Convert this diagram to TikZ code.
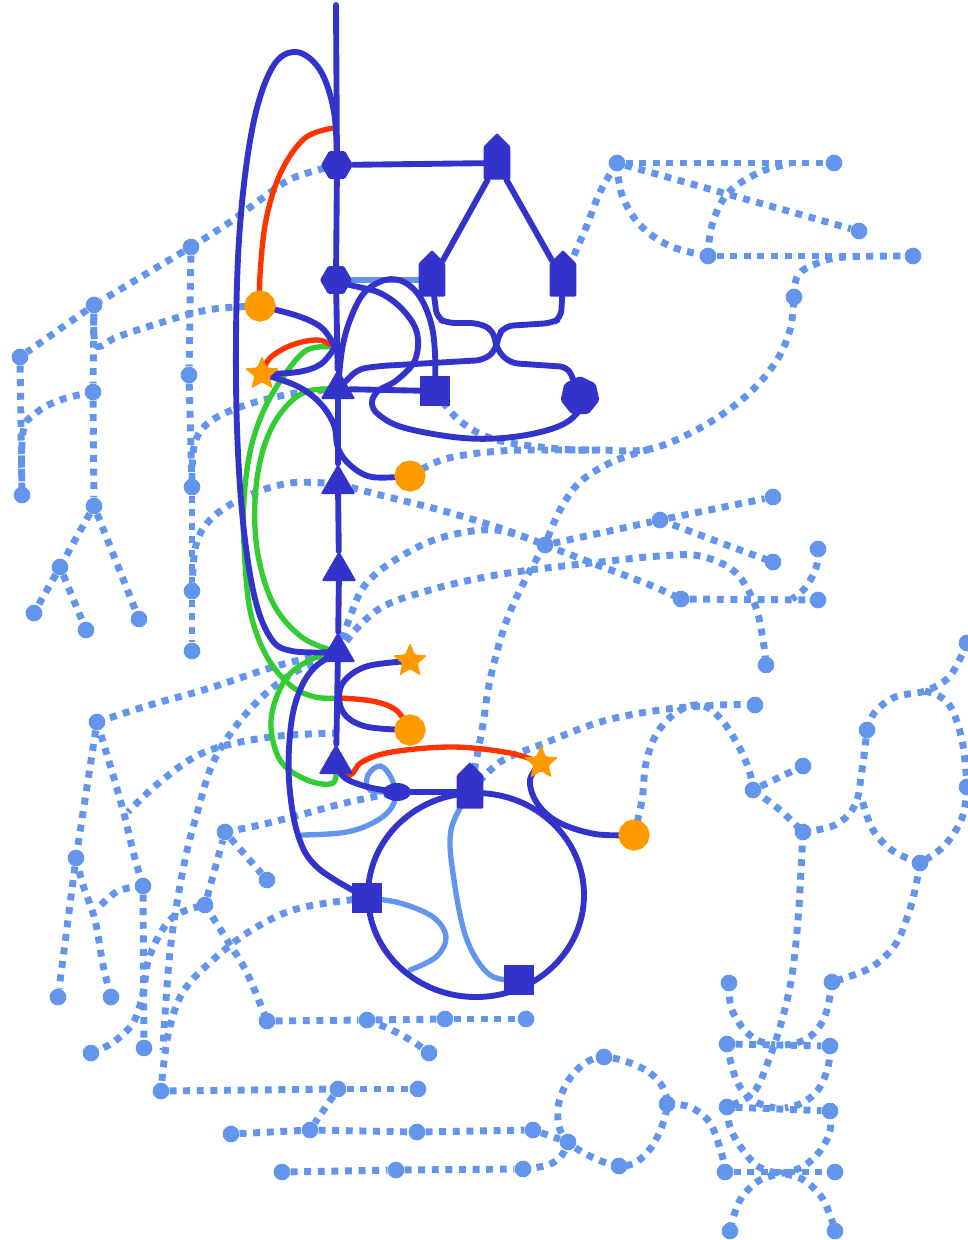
\documentclass[tikz,border=0pt]{standalone}
\usepackage{tikz}
\usetikzlibrary{shapes.geometric,shapes.symbols,backgrounds}
\definecolor{inkblue}{RGB}{51,51,204}
\definecolor{skyblue}{RGB}{100,149,237}
\definecolor{amber}{RGB}{255,153,0}
\definecolor{scarlet}{RGB}{255,51,0}
\definecolor{leaf}{RGB}{51,204,51}
\tikzset{
  link/.style={draw=inkblue, line width=4.4pt, line cap=round},
  palelink/.style={draw=skyblue, line width=4pt, line cap=round},
  redlink/.style={draw=scarlet, line width=4pt, line cap=round},
  greenlink/.style={draw=leaf, line width=4pt, line cap=round},
  dotlink/.style={draw=skyblue, line width=5.2pt, dash pattern=on 5.2pt off 5pt},
  bluedot/.style={circle, fill=skyblue, inner sep=0, minimum size=12.5pt},
  hexnode/.style={regular polygon, regular polygon sides=6, fill=inkblue, inner sep=0, minimum size=24pt, rounded corners=1pt},
  bighex/.style={regular polygon, regular polygon sides=7, fill=inkblue, inner sep=0, minimum size=30pt, rounded corners=1.5pt},
  housenode/.style={signal, signal to=north, signal from=nowhere, fill=inkblue, inner sep=0, minimum width=20pt, minimum height=25pt, rounded corners=1pt},
  trinode/.style={regular polygon, regular polygon sides=3, fill=inkblue, inner sep=0, minimum size=30pt, rounded corners=1pt},
  sqnode/.style={rectangle, fill=inkblue, inner sep=0, minimum size=23pt},
  ovalnode/.style={ellipse, fill=inkblue, inner sep=0, minimum width=21pt, minimum height=13.5pt},
  blobnode/.style={star, star points=12, star point ratio=1.15, fill=amber, inner sep=0, minimum size=25pt, rounded corners=1.5pt},
  starnode/.style={star, star points=5, star point ratio=2.2, fill=amber, inner sep=0, minimum size=27pt, rounded corners=1pt}
}
\begin{document}
\begin{tikzpicture}[x=0.75pt,y=-0.75pt]
  \useasboundingbox (0,0) rectangle (968,1240);

  % core nodes
  \node[hexnode] (H1) at (337,165) {};
  \node[hexnode] (H2) at (336,280) {};
  \node[bighex] (H3) at (580,396) {};
  \node[housenode] (P1) at (497,163) {};
  \node[housenode] (P2) at (432,280) {};
  \node[housenode] (P3) at (563,280) {};
  \node[housenode] (P4) at (470,792) {};
  \node[trinode] (T1) at (338,389) {};
  \node[trinode] (T2) at (338,484) {};
  \node[trinode] (T3) at (339,571) {};
  \node[trinode] (T4) at (338,652) {};
  \node[trinode] (T5) at (336,764) {};
  \node[sqnode] (S1) at (435,391) {};
  \node[sqnode] (S2) at (367,898) {};
  \node[sqnode] (S3) at (519,980) {};
  \node[ovalnode] (E1) at (397,792) {};
  \node[blobnode] (O1) at (260,306) {};
  \node[blobnode] (O2) at (410,476) {};
  \node[blobnode] (O3) at (410,730) {};
  \node[blobnode] (O4) at (634,835) {};
  \node[starnode] (St1) at (262,374) {};
  \node[starnode] (St2) at (410,661) {};
  \node[starnode] (St3) at (541,763) {};

  \coordinate (spinetop) at (336,5);
  \coordinate (redtop) at (334,128);
  \coordinate (jA) at (335,347);
  \coordinate (jB) at (339,698);
  \coordinate (jC) at (339,733);
  \coordinate (lbend) at (302,835);
  \coordinate (ringpt) at (410,970);
  \coordinate (ringc) at (476,895);
  \coordinate (mA) at (600,450);
  \coordinate (mB) at (650,449);
  \coordinate (mC) at (792,599);
  \coordinate (mD) at (790,164);
  \coordinate (mF) at (925,691);
  \coordinate (mG) at (862,800);
  \coordinate (mJ) at (128,812);
  \coordinate (mK) at (98,908);
  \coordinate (r1a) at (775,1045);
  \coordinate (r1b) at (785,1045);
  \coordinate (r2a) at (775,1108);
  \coordinate (r2b) at (785,1108);
  \coordinate (r3a) at (772,1172);
  \coordinate (r3b) at (788,1172);

  % light dots
  \foreach \n/\x/\y in {a1/191/247, a2/94/305, a3/20/357, a4/93/392, a5/22/495, a6/94/506,
      a7/60/567, a8/34/613, a9/86/630, a10/139/619, a11/189/375, a12/192/487, a13/192/591, a14/192/651,
      b1/617/163, b2/834/163, b3/859/231, b4/708/256, b5/913/256, b6/794/297,
      c1/545/545, c2/660/520, c3/773/497, c4/773/562, c5/818/549, c6/681/599, c7/818/600, c8/766/665,
      d2/97/722, d3/76/858, d4/58/997, d5/111/997, d6/143/886, d7/225/832, d8/267/880, d9/205/905,
      d10/91/1053, d11/144/1048, e1/161/1091,
      f1/267/1021, f2/367/1020, f3/445/1019, f4/526/1019, f5/429/1053, f6/338/1089, f7/418/1089,
      f8/231/1134, f9/310/1130, f10/417/1132, f11/533/1130, f12/282/1172, f13/396/1170, f14/523/1169,
      g1/604/1057, g2/667/1104, g3/619/1166, g4/568/1142,
      h1/729/983, h2/832/982, h3/727/1044, h4/830/1046, h5/727/1107, h6/830/1111,
      h7/725/1172, h8/835/1172, h9/730/1231, h10/835/1231,
      i1/803/832, i2/755/705, i3/753/790, i4/803/766, i5/867/730, i6/967/643, i7/967/787, j1/920/863}
    \node[bluedot] (\n) at (\x,\y) {};

  \begin{scope}[on background layer]
    % dotted mesh
    \foreach \u/\v in {a1/a2, a2/a3, a2/a4, a4/a6, a3/a5, a6/a7, a7/a8, a7/a9, a6/a10,
        a1/a11, a11/a12, a12/a13, a13/a14, b1/b2, b1/b3, b4/b5, c1/c2, c2/c3, c6/c7, i3/i4,
        d2/d3, d3/d4, d6/d11, d9/d7, d7/d8, f1/f2, f2/f3, f3/f4, e1/f6, f6/f7, f6/f9,
        f8/f9, f9/f10, f10/f11, f11/g4, f12/f13, f13/f14, h3/h4, h5/h6, h7/h8}
      \draw[dotlink] (\u) -- (\v);
    \draw[dotlink] plot[smooth, tension=0.6] coordinates {(a1) (230,222) (264,197) (293,178) (H1)};
    \draw[dotlink] plot[smooth, tension=0.6] coordinates {(a2) (96,345) (117,337) (150,326) (207,310) (O1)};
    \draw[dotlink] plot[smooth, tension=0.6] coordinates {(a4) (60,400) (36,413) (23,432) (a5)};
    \draw[dotlink] plot[smooth, tension=0.6] coordinates {(T1) (290,394) (240,407) (207,424) (194,447) (a12)};
    \draw[dotlink] plot[smooth, tension=0.6] coordinates {(T2) (290,483) (245,497) (212,518) (196,545) (a13)};
    \draw[dotlink] plot[smooth, tension=0.6] coordinates {(b1) (622,195) (640,225) (670,246) (b4)};
    \draw[dotlink] plot[smooth, tension=0.6] coordinates {(b4) (712,225) (728,193) (760,172) (mD)};
    \draw[dotlink] plot[smooth, tension=0.6] coordinates {(b6) (798,275) (818,263) (845,257) (b5)};
    \draw[dotlink] plot[smooth, tension=0.6] coordinates {(b1) (600,192) (585,230) (P3)};
    \draw[dotlink] plot[smooth, tension=0.6] coordinates {(S1) (460,421) (497,440) (560,449) (mA) (mB) (700,428) (745,397) (775,363) (790,330) (b6)};
    \draw[dotlink] plot[smooth, tension=0.6] coordinates {(O2) (445,459) (500,451) (555,450) (mA)};
    \draw[dotlink] plot[smooth, tension=0.6] coordinates {(mB) (612,462) (580,482) (560,510) (c1)};
    \draw[dotlink] plot[smooth, tension=0.6] coordinates {(c1) (525,580) (505,625) (490,680) (482,730) (P4)};
    \draw[dotlink] plot[smooth, tension=0.6] coordinates {(T2) (380,495) (440,510) (500,528) (c1)};
    \draw[dotlink] plot[smooth, tension=0.6] coordinates {(c1) (600,566) (650,585) (c6)};
    \draw[dotlink] plot[smooth, tension=0.6] coordinates {(T4) (350,617) (365,585) (395,560) (440,538) (495,530) (c1)};
    \draw[dotlink] plot[smooth, tension=0.6] coordinates {(c2) (700,535) (740,550) (c4)};
    \draw[dotlink] plot[smooth, tension=0.6] coordinates {(c5) (816,568) (805,588) (mC)};
    \draw[dotlink] plot[smooth, tension=0.6] coordinates {(T4) (360,625) (386,605) (430,590) (480,578) (530,570) (600,562) (660,556) (700,556) (735,572) (755,605) (763,640) (c8)};
    \draw[dotlink] plot[smooth, tension=0.6] coordinates {(P4) (500,762) (540,745) (600,722) (660,710) (720,705) (i2)};
    \draw[dotlink] plot[smooth, tension=0.6] coordinates {(O4) (642,800) (646,763) (657,733) (677,712) (700,705) (720,718) (738,745) (749,770) (i3)};
    \draw[dotlink] plot[smooth, tension=0.6] coordinates {(i3) (780,810) (i1)};
    \draw[dotlink] plot[smooth, tension=0.6] coordinates {(i1) (835,825) (855,805) (862,770) (i5)};
    \draw[dotlink] plot[smooth, tension=0.6] coordinates {(i5) (875,712) (895,697) (mF) (948,678) (962,655) (i6)};
    \draw[dotlink] plot[smooth, tension=0.6] coordinates {(mF) (948,703) (962,740) (i7)};
    \draw[dotlink] plot[smooth, tension=0.6] coordinates {(i7) (962,818) (944,846) (j1)};
    \draw[dotlink] plot[smooth, tension=0.6] coordinates {(j1) (893,851) (873,830) (mG)};
    \draw[dotlink] plot[smooth, tension=0.6] coordinates {(j1) (915,890) (908,915) (895,945) (870,968) (h2)};
    \draw[dotlink] plot[smooth, tension=0.6] coordinates {(i1) (801,870) (798,920) (792,975) (782,1020) (768,1062) (753,1093) (h5)};
    \draw[dotlink] plot[smooth, tension=0.6] coordinates {(h1) (731,1007) (742,1027) (757,1040) (r1a)};
    \draw[dotlink] plot[smooth, tension=0.6] coordinates {(h2) (827,1010) (817,1030) (802,1041) (r1b)};
    \draw[dotlink] plot[smooth, tension=0.6] coordinates {(h3) (732,1067) (740,1087) (756,1102) (r2a)};
    \draw[dotlink] plot[smooth, tension=0.6] coordinates {(h4) (828,1067) (818,1090) (802,1103) (r2b)};
    \draw[dotlink] plot[smooth, tension=0.6] coordinates {(h5) (730,1127) (740,1146) (756,1165) (r3a)};
    \draw[dotlink] plot[smooth, tension=0.6] coordinates {(h6) (830,1131) (820,1151) (804,1166) (r3b)};
    \draw[dotlink] plot[smooth, tension=0.6] coordinates {(r3a) (800,1178) (820,1195) (830,1215) (h10)};
    \draw[dotlink] plot[smooth, tension=0.6] coordinates {(r3b) (760,1180) (742,1197) (734,1215) (h9)};
    \draw[dotlink] plot[smooth cycle, tension=0.6] coordinates {(g1) (650,1073) (g2) (650,1149) (g3) (g4) (558,1108) (574,1073)};
    \draw[dotlink] plot[smooth, tension=0.6] coordinates {(g2) (690,1107) (710,1123) (722,1155) (h7)};
    \draw[dotlink] plot[smooth, tension=0.6] coordinates {(f14) (548,1165) (562,1155) (g4)};
    \draw[dotlink] plot[smooth, tension=0.6] coordinates {(f2) (392,1030) (415,1043) (f5)};
    \draw[dotlink] plot[smooth, tension=0.6] coordinates {(S2) (300,908) (255,928) (215,958) (183,992) (168,1035) (e1)};
    \draw[dotlink] plot[smooth, tension=0.6] coordinates {(T4) (295,672) (262,697) (233,730) (212,765) (198,810) (185,860) (172,935) (166,1000) (163,1050)};
    \draw[dotlink] plot[smooth, tension=0.6] coordinates {(d2) (150,705) (210,688) (280,665) (T4)};
    \draw[dotlink] plot[smooth, tension=0.6] coordinates {(d3) (83,885) (95,920) (103,965) (d5)};
    \draw[dotlink] plot[smooth, tension=0.6] coordinates {(d2) (110,765) (123,810) (134,855) (d6)};
    \draw[dotlink] plot[smooth, tension=0.6] coordinates {(jC) (270,737) (205,752) (160,782) (mJ)};
    \draw[dotlink] plot[smooth, tension=0.6] coordinates {(d6) (118,891) (mK)};
    \draw[dotlink] plot[smooth, tension=0.6] coordinates {(d10) (112,1043) (133,1023) (143,993) (150,955) (172,918) (d9)};
    \draw[dotlink] plot[smooth, tension=0.6] coordinates {(d7) (260,825) (300,815) (345,803) (E1)};
    \draw[dotlink] plot[smooth, tension=0.6] coordinates {(d9) (227,940) (247,973) (f1)};

    % pale solid links
    \draw[palelink] (H2) -- (P2);
    \draw[palelink] plot[smooth, tension=0.6] coordinates {(lbend) (347,832) (378,820) (394,803) (393,782) (381,766) (368,775) (370,790) (E1)};
    \draw[palelink] plot[smooth, tension=0.6] coordinates {(S2) (400,903) (433,917) (446,937) (436,957) (ringpt)};
    \draw[palelink] plot[smooth, tension=0.6] coordinates {(P4) (451,830) (454,880) (467,940) (490,975) (S3)};

    % green links
    \draw[greenlink] plot[smooth, tension=0.6] coordinates {(jA) (307,350) (283,377) (263,412) (250,452) (244,500) (244,545) (250,610) (266,655) (290,685) (315,697) (jB)};
    \draw[greenlink] plot[smooth, tension=0.6] coordinates {(T1) (305,392) (280,414) (263,450) (255,500) (258,555) (274,605) (303,638) (T4)};
    \draw[greenlink] plot[smooth, tension=0.6] coordinates {(T4) (310,660) (285,680) (271,720) (280,760) (307,780) (333,783) (T5)};

    % red links
    \draw[redlink] plot[smooth, tension=0.6] coordinates {(redtop) (305,138) (281,172) (266,220) (260,275) (O1)};
    \draw[redlink] plot[smooth, tension=0.6] coordinates {(St1) (270,358) (292,345) (318,340) (jA)};
    \draw[redlink] plot[smooth, tension=0.6] coordinates {(jB) (372,701) (396,710) (O3)};
    \draw[redlink] plot[smooth, tension=0.6] coordinates {(T5) (350,775) (362,762) (392,752) (453,747) (510,753) (St3)};

    % dark links
    \draw[link] (spinetop) -- (H1) -- (H2) -- (T1) -- (T2) -- (T3) -- (T4) -- (T5);
    \draw[link] (H1) -- (P1) (P1) -- (P2) (P1) -- (P3);
    \draw[link] (T1) -- (S1);
    \draw[link] (E1) -- (P4);
    \draw[link] (ringc) ellipse [x radius=81pt, y radius=76.5pt];
    \draw[link] plot[smooth, tension=0.6] coordinates {(H1) (334,112) (320,70) (296,52) (272,68) (252,130) (239,240) (236,380) (241,500) (253,590) (270,637) (292,651) (T4)};
    \draw[link] plot[smooth, tension=0.6] coordinates {(O1) (298,316) (322,328) (jA)};
    \draw[link] plot[smooth, tension=0.6] coordinates {(St1) (298,372) (321,364) (jA)};
    \draw[link] plot[smooth, tension=0.6] coordinates {(St1) (297,386) (320,403) (334,425) (338,448) (350,465) (372,477) (O2)};
    \draw[link] plot[smooth, tension=0.6] coordinates {(T1) (342,350) (350,320) (364,293) (385,280) (404,282) (420,297) (431,323) (435,353) (S1)};
    \draw[link] plot[smooth, tension=0.6] coordinates {(H2) (350,285) (380,293) (403,310) (417,333) (415,360) (397,380) (378,391) (372,403) (379,415) (405,428) (463,438) (513,437) (557,427) (578,412) (H3)};
    \draw[link, rounded corners=6pt] (P2) -- (437,318) -- (447,323) -- (478,323) -- (493,330) -- (497,350) -- (510,363) -- (568,367) -- (H3);
    \draw[link, rounded corners=6pt] (P3) -- (561,318) -- (552,323) -- (505,326) -- (498,336) -- (496,350) -- (484,360) -- (380,366) -- (358,369) -- (T1);
    \draw[link] plot[smooth, tension=0.6] coordinates {(T4) (315,667) (300,690) (291,725) (289,780) (298,835) (318,868) (S2)};
    \draw[link] plot[smooth, tension=0.6] coordinates {(St2) (368,666) (345,680) (339,698) (346,716) (368,727) (O3)};
    \draw[link] plot[smooth, tension=0.6] coordinates {(T5) (345,778) (368,787) (E1)};
    \draw[link] plot[smooth, tension=0.6] coordinates {(St3) (530,780) (537,803) (558,822) (595,834) (O4)};
  \end{scope}
\end{tikzpicture}
\end{document}
